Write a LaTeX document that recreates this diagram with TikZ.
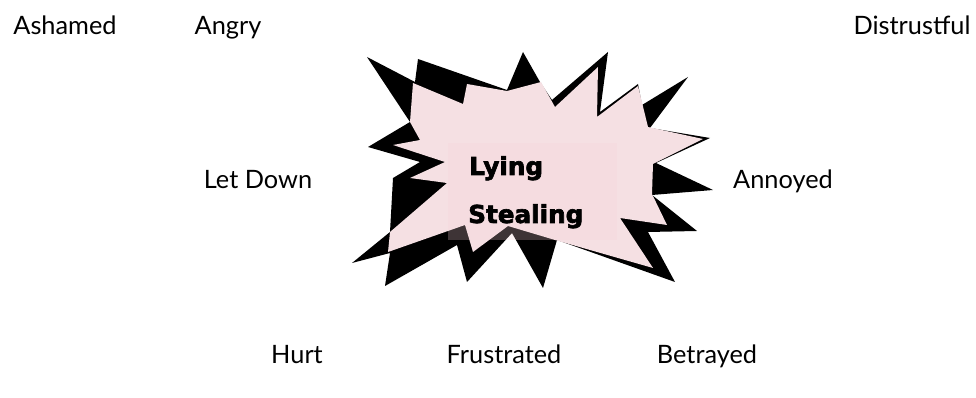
\documentclass[tikz,border=0pt]{standalone}
\usepackage{fontspec}
\setmainfont{Lato}
\newfontfamily\heavyfont{DejaVu Sans Bold}[FakeBold=2.5]
\usetikzlibrary{positioning}
\definecolor{burstpink}{HTML}{F5E0E3}
\definecolor{boxpink}{HTML}{F8D2D8}
\definecolor{inkblack}{HTML}{000000}

\begin{document}
\begin{tikzpicture}[x=0.75pt, y=-0.75pt,
  feeling/.style={font=\fontsize{19}{22}\selectfont, text=inkblack,
                  inner sep=0pt, anchor=base},
  wrongdoing/.style={font=\heavyfont\fontsize{18.5}{22}\selectfont,
                  text=inkblack, inner sep=0pt, anchor=base west},
  textbox/.style={fill=boxpink, fill opacity=0.25, draw=none,
                  minimum width=126.75pt, minimum height=72.75pt, inner sep=0pt},
  backburst/.style={fill=inkblack, draw=none},
  frontburst/.style={fill=burstpink, draw=none}
]
  \useasboundingbox (0,0) rectangle (976,398);

  % Burst, black back
  \fill[backburst] (367,57) -- (415,82) -- (418,59) -- (507,90) -- (523,52)
    -- (540,82) -- (552,100) -- (608,52) -- (600,112) -- (638,84) -- (642,105)
    -- (688,77) -- (650,128) -- (710,138) -- (656,163) -- (713,190) -- (652,195)
    -- (697,231) -- (648,232) -- (675,282) -- (557,240) -- (543,288) -- (512,233)
    -- (467,282) -- (457,245) -- (385,286) -- (390,253) -- (352,263) -- (390,232)
    -- (393,178) -- (420,162) -- (368,147) -- (410,122) -- cycle;

  % Burst, pink front
  \fill[frontburst] (413,83) -- (463,104) -- (467,84) -- (507,91) -- (541,82)
    -- (555,107) -- (598,67) -- (597,117) -- (638,86) -- (648,127) -- (703,139)
    -- (653,164) -- (652,194) -- (667,225) -- (620,218) -- (653,268) -- (555,240)
    -- (508,226) -- (473,252) -- (465,225) -- (388,252) -- (390,232) -- (447,183)
    -- (410,178) -- (445,162) -- (393,145) -- (420,140) -- (410,122) -- cycle;

  % Text box
  \node[textbox] (box) at (532.5,191.5) {};
  \node[wrongdoing] (lying) at (469,175) {Lying};
  \node[wrongdoing] (stealing) at (468,223) {Stealing};

  % Feelings
  \node[feeling] (ashamed) at (65,35) {Ashamed};
  \node[feeling] (angry) at (228,35) {Angry};
  \node[feeling] (distrustful) at (912,35) {Distrustful};
  \node[feeling] (letdown) at (258,189) {Let Down};
  \node[feeling] (annoyed) at (783,189) {Annoyed};
  \node[feeling] (hurt) at (297,364) {Hurt};
  \node[feeling] (frustrated) at (504,364) {Frustrated};
  \node[feeling] (betrayed) at (707,364) {Betrayed};
\end{tikzpicture}
\end{document}
